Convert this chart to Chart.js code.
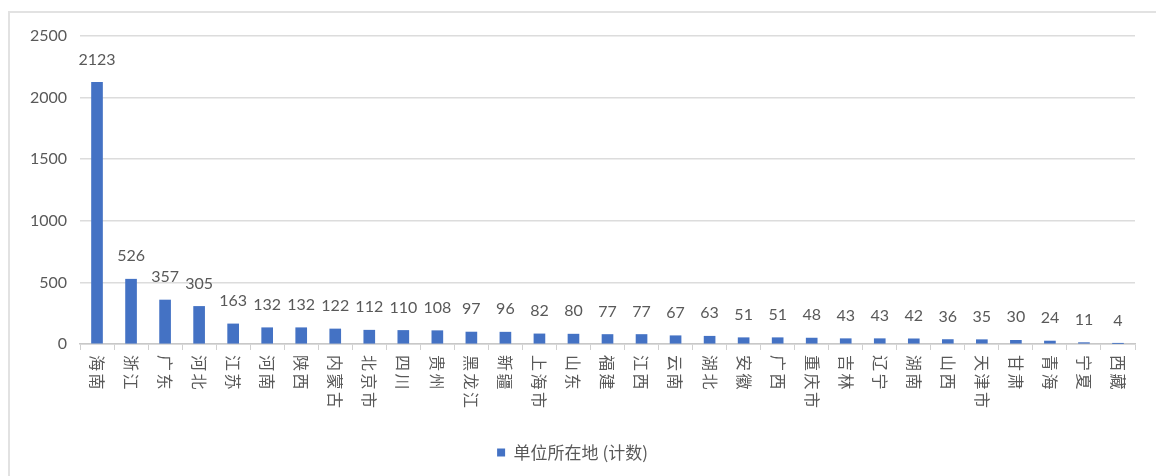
<!DOCTYPE html>
<html>
<head>
<meta charset="utf-8">
<script src="https://cdn.jsdelivr.net/npm/chart.js@4"></script>
<style>
  html, body { margin: 0; padding: 0; background: #fff; overflow: hidden; width: 1156px; height: 476px; }
  #frame { position: absolute; left: 8px; top: 11px; width: 1200px; height: 520px; border: 2px solid #e2e2e2; box-sizing: border-box; }
  #c { position: absolute; left: 0; top: 0; }
</style>
</head>
<body>
<div id="frame"></div>
<canvas id="c" width="1156" height="476"></canvas>
<script>
const categories = ["海南","浙江","广东","河北","江苏","河南","陕西","内蒙古","北京市","四川","贵州","黑龙江","新疆","上海市","山东","福建","江西","云南","湖北","安徽","广西","重庆市","吉林","辽宁","湖南","山西","天津市","甘肃","青海","宁夏","西藏"];
const counts = [2123,526,357,305,163,132,132,122,112,110,108,97,96,82,80,77,77,67,63,51,51,48,43,43,42,36,35,30,24,11,4];
const seriesName = "单位所在地 (计数)";
const yTicks = [0,500,1000,1500,2000,2500];

const textColor = "#595959";
const latin = "Lato, 'Noto Sans CJK SC', sans-serif";
const cjk = "'Noto Sans CJK SC', sans-serif";

const valueLabels = {
  id: "valueLabels",
  afterDatasetsDraw(chart) {
    const ctx = chart.ctx;
    const meta = chart.getDatasetMeta(0);
    ctx.save();
    ctx.fillStyle = textColor;
    ctx.font = "16px " + latin;
    ctx.textAlign = "center";
    ctx.textBaseline = "bottom";
    meta.data.forEach((bar, i) => {
      ctx.fillText(String(chart.data.datasets[0].data[i]), bar.x, bar.y - 15);
    });
    ctx.restore();
  }
};

const verticalXLabels = {
  id: "verticalXLabels",
  afterDraw(chart) {
    const ctx = chart.ctx;
    const xs = chart.scales.x;
    ctx.save();
    ctx.fillStyle = textColor;
    ctx.font = "16px " + cjk;
    if ('letterSpacing' in ctx) ctx.letterSpacing = "2.5px";
    ctx.textAlign = "left";
    ctx.textBaseline = "middle";
    chart.data.labels.forEach((lab, i) => {
      const x = xs.getPixelForTick(i);
      ctx.save();
      ctx.translate(x, xs.top + 11);
      ctx.rotate(Math.PI / 2);
      ctx.fillText(lab, 0, 0);
      ctx.restore();
    });
    ctx.restore();
  }
};

new Chart(document.getElementById("c"), {
  type: "bar",
  data: {
    labels: categories,
    datasets: [{
      label: seriesName,
      data: counts,
      backgroundColor: "#4472C4",
      borderWidth: 0,
      barThickness: 11
    }]
  },
  options: {
    responsive: false,
    animation: false,
    devicePixelRatio: 1,
    layout: { padding: { top: 36, left: 10, right: 21, bottom: 5 } },
    plugins: {
      legend: {
        position: "bottom",
        labels: {
          boxWidth: 8, boxHeight: 8,
          color: textColor,
          font: { size: 17, family: cjk },
          padding: 10
        }
      },
      tooltip: { enabled: false }
    },
    scales: {
      x: {
        offset: true,
        grid: { display: true, drawOnChartArea: false, drawTicks: true, tickLength: 6, color: "#d0d0d0", offset: true },
        border: { display: true, color: "#c8c8c8", width: 1.5 },
        ticks: { display: false },
        afterFit(scale) { scale.height = 90; }
      },
      y: {
        min: 0, max: 2500,
        afterBuildTicks(scale) { scale.ticks = yTicks.map(v => ({ value: v })); },
        grid: { color: "#dcdcdc", lineWidth: 1.5, drawTicks: false },
        border: { display: false },
        ticks: { color: textColor, font: { size: 16, family: latin }, padding: 13, callback: (v) => String(v) },
        afterFit(scale) { scale.width = 70; }
      }
    }
  },
  plugins: [valueLabels, verticalXLabels]
});
</script>
</body>
</html>
